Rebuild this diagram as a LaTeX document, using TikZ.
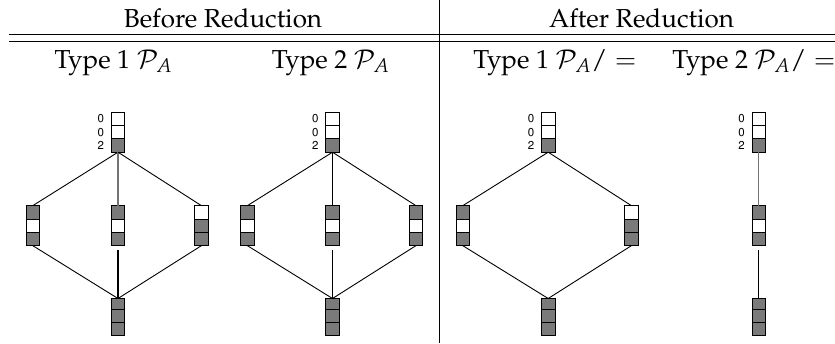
\documentclass[tikz,border=0pt]{standalone}
\usepackage[T1]{fontenc}
\usepackage{mathpazo}
\tikzset{
  cell/.style={draw=black, line width=0.9pt, minimum width=13.5pt, minimum height=13.3pt, inner sep=0pt, outer sep=0pt, anchor=north},
  W/.style={fill=white},
  G/.style={fill=black!52},
  edge/.style={line width=0.9pt, draw=black},
  grayedge/.style={line width=1.2pt, draw=black!55},
  gapedge/.style={line width=1.1pt, draw=black, shorten <=4.5pt},
  lbl/.style={font=\fontfamily{phv}\fontsize{11.5}{13}\selectfont, anchor=east, inner sep=0pt},
  head/.style={font=\fontsize{26}{30}\selectfont, anchor=base, inner sep=0pt},
  tablerule/.style={line width=1pt}
}
\newcommand\stackbox[6]{%
  \node[cell,#4] (#1-1) at (#2,#3) {};
  \node[cell,#5] (#1-2) at (#1-1.south) {};
  \node[cell,#6] (#1-3) at (#1-2.south) {};
}
\newcommand\basebox[3]{%
  \node[cell,G,minimum height=10.7pt] (#1-1) at (#2,#3) {};
  \node[cell,G] (#1-2) at (#1-1.south) {};
  \node[cell,G] (#1-3) at (#1-2.south) {};
}
\newcommand\toplabels[1]{%
  \node[lbl] (#1-l1) at ([xshift=-7pt]#1-1.west) {0};
  \node[lbl] (#1-l2) at ([xshift=-7pt]#1-2.west) {0};
  \node[lbl] (#1-l3) at ([xshift=-7pt]#1-3.west) {2};
}
\begin{document}
\begin{tikzpicture}[x=1pt,y=-1pt]
\useasboundingbox (0,0) rectangle (835,343);
% table rules
\coordinate (r1a) at (9,34.7); \coordinate (r1b) at (835,34.7);
\coordinate (r2a) at (9,41.3); \coordinate (r2b) at (835,41.3);
\coordinate (va) at (439.3,0); \coordinate (vb) at (439.3,343);
\draw[tablerule] (r1a) -- (r1b);
\draw[tablerule] (r2a) -- (r2b);
\draw[tablerule] (va) -- (vb);
% headings
\node[head] (before) at (223,27) {Before Reduction};
\node[head] (after) at (641.5,27) {After Reduction};
\node[head] (h1) at (113.5,68) {Type 1 $\mathcal{P}_A$};
\node[head] (h2) at (330.7,68) {Type 2 $\mathcal{P}_A$};
\node[head] (h3) at (555,68) {Type 1 $\mathcal{P}_A/=$};
\node[head] (h4) at (754,68) {Type 2 $\mathcal{P}_A/=$};
% panel 1
\stackbox{a}{118}{112.3}{W}{W}{G}\toplabels{a}
\stackbox{al}{32.7}{205.7}{G}{W}{G}
\stackbox{am}{118}{205.7}{G}{W}{G}
\stackbox{ar}{201.5}{205.7}{W}{G}{G}
\basebox{ab}{118}{298.5}
\draw[edge] (a-3.south) -- (al-1.north);
\draw[grayedge] (a-3.south) -- (am-1.north);
\draw[edge] (a-3.south) -- (ar-1.north);
\draw[edge] (al-3.south) -- (ab-1.north);
\draw[edge] (ar-3.south) -- (ab-1.north);
\draw[gapedge] (am-3.south) -- (ab-1.north);
% panel 2
\stackbox{b}{332.5}{112.3}{W}{W}{G}\toplabels{b}
\stackbox{bl}{247.3}{205.7}{G}{W}{G}
\stackbox{bm}{332.5}{205.7}{G}{W}{G}
\stackbox{br}{416}{205.7}{G}{W}{G}
\basebox{bb}{332.5}{298.5}
\draw[edge] (b-3.south) -- (bl-1.north);
\draw[edge] (b-3.south) -- (bm-1.north);
\draw[edge] (b-3.south) -- (br-1.north);
\draw[edge] (bl-3.south) -- (bb-1.north);
\draw[edge] (br-3.south) -- (bb-1.north);
\draw[gapedge] (bm-3.south) -- (bb-1.north);
% panel 3
\stackbox{c}{548.2}{112.3}{W}{W}{G}\toplabels{c}
\stackbox{cl}{462.7}{205.7}{G}{W}{G}
\stackbox{cr}{631.5}{205.7}{W}{G}{G}
\basebox{cb}{548.2}{298.5}
\draw[edge] (c-3.south) -- (cl-1.north);
\draw[edge] (c-3.south) -- (cr-1.north);
\draw[edge] (cl-3.south) -- (cb-1.north);
\draw[edge] (cr-3.south) -- (cb-1.north);
% panel 4
\stackbox{d}{758.8}{112.3}{W}{W}{G}\toplabels{d}
\stackbox{dm}{758.8}{205.7}{G}{W}{G}
\basebox{db}{758.8}{298.5}
\draw[grayedge] (d-3.south) -- (dm-1.north);
\draw[gapedge] (dm-3.south) -- (db-1.north);
\end{tikzpicture}
\end{document}
